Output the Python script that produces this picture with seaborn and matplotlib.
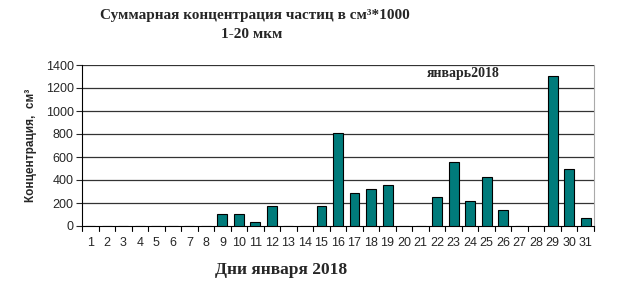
import matplotlib
matplotlib.use("Agg")
import matplotlib.pyplot as plt
import seaborn as sns
import pandas as pd

days = [str(d) for d in range(1, 32)]
values = [0, 0, 0, 0, 0, 0, 0, 0, 107, 107, 35, 174, 0, 0, 174, 809, 284, 322, 357,
          0, 0, 249, 557, 217, 423, 142, 0, 0, 1302, 496, 70]
yticks = [0, 200, 400, 600, 800, 1000, 1200, 1400]

df = pd.DataFrame({"day": days, "value": values})

sns.set_theme(style="white")
plt.rcParams['font.family'] = ['Liberation Sans', 'DejaVu Sans']

fig = plt.figure(figsize=(6.39, 2.89), dpi=100)
ax = fig.add_axes([82/639, 1 - 226/289, (594-82)/639, (226-65)/289])

sns.barplot(data=df, x="day", y="value", ax=ax, color="#007B7B", saturation=1,
            width=0.6, edgecolor="black", linewidth=0.8, zorder=3)

ax.set_ylim(0, 1400)
ax.set_xlim(-0.5, 30.5)
ax.set_yticks(yticks)
ax.set_yticklabels([str(t) for t in yticks], fontsize=9)
for t in yticks[1:]:
    ax.axhline(t, color="#333333", linewidth=0.9, zorder=1)
ax.tick_params(axis='x', length=0, labelsize=9, pad=8)
ax.tick_params(axis='y', length=4, direction='out', left=True, width=0.8, pad=2)
# x tick marks between categories
for i in range(32):
    ax.plot([i - 0.5, i - 0.5], [0, -0.03], transform=ax.get_xaxis_transform(),
            color="black", linewidth=0.8, clip_on=False)

ax.spines["top"].set_visible(False)
ax.spines["right"].set_color("#aaaaaa")
ax.spines["right"].set_linewidth(0.8)
ax.spines["left"].set_color("black")
ax.spines["left"].set_linewidth(0.8)
ax.spines["bottom"].set_color("black")
ax.spines["bottom"].set_linewidth(0.8)

ax.set_xlabel("")
ax.set_ylabel("Концентрация,  см³", fontsize=8.5, fontweight="bold", labelpad=6)

serif = ["Liberation Serif", "DejaVu Serif"]
ax.text(0.745, 0.95, "январь2018", transform=ax.transAxes, ha="center", va="center",
        fontsize=10, fontweight="bold", family=serif)

fig.text(255/639, 1 - 15/289, "Суммарная концентрация частиц в см³*1000",
         ha="center", va="center", fontsize=11, fontweight="bold", family=serif)
fig.text(252/639, 1 - 35/289, "1-20 мкм", ha="center", va="center", fontsize=11,
         fontweight="bold", family=serif)
fig.text(281/639, 1 - 270/289, "Дни января 2018", ha="center", va="center",
         fontsize=12.5, fontweight="bold", family=serif)

fig.savefig("out.png", dpi=100, facecolor="white")
